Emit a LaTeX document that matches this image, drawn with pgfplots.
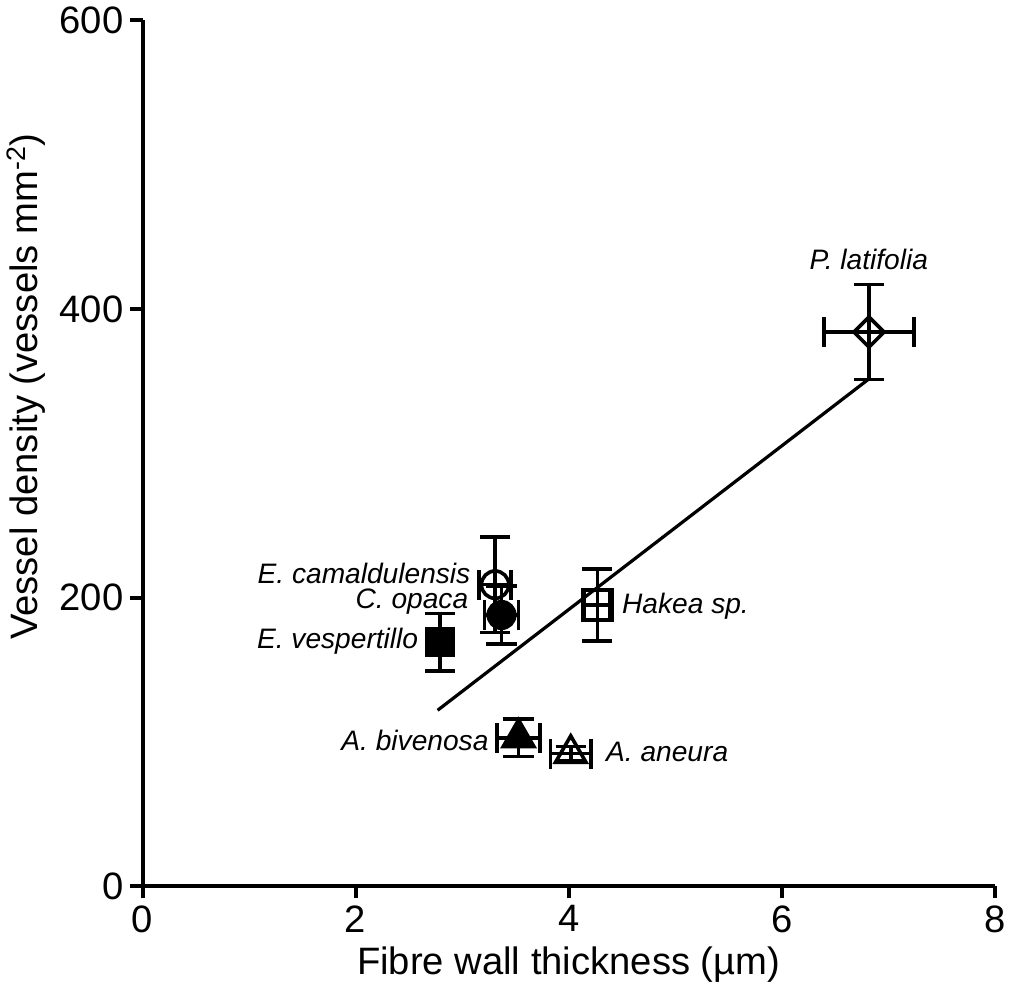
\documentclass[border=0pt]{standalone}
\usepackage{pgfplots}
\pgfplotsset{compat=1.18}
\usepackage{fontspec}
\setmainfont{Liberation Sans}

\begin{document}
\begin{tikzpicture}
\begin{axis}[
  scale only axis, width=424pt, height=431pt,
  xmin=0, xmax=8, ymin=0, ymax=600,
  axis lines=left, axis line style={-, line width=2pt},
  xtick={0,2,4,6,8}, ytick={0,200,400,600},
  tick align=outside, major tick length=6pt,
  tick style={line width=2pt, black},
  ticklabel style={font=\fontsize{19}{19}\selectfont},
  label style={font=\fontsize{19}{19}\selectfont},
  xlabel={Fibre wall thickness (µm)},
  ylabel={Vessel density (vessels mm\textsuperscript{-2})},
  every axis y label/.append style={at={(ticklabel cs:0.577)}},
  /pgf/number format/assume math mode=true,
  clip=false,
  every axis plot/.append style={line width=1.8pt, black},
  error bars/error bar style={line width=1.8pt, black},
  error bars/error mark options={rotate=90, line width=1.8pt, mark size=7.5pt, black},
]
% E. camaldulensis
\addplot[only marks, mark=o, mark size=6.8pt, mark options={fill=white},
  error bars/.cd, x dir=both, x explicit, y dir=both, y explicit]
  coordinates {(3.31,209) +- (0.15,33)};
% C. opaca
\addplot[only marks, mark=*, mark size=6.6pt,
  error bars/.cd, x dir=both, x explicit, y dir=both, y explicit]
  coordinates {(3.37,188) +- (0.16,20)};
% E. vespertillo
\addplot[only marks, mark=square*, mark size=6.6pt,
  error bars/.cd, x dir=both, x explicit, y dir=both, y explicit]
  coordinates {(2.79,169) +- (0.08,20)};
% Hakea sp.
\addplot[only marks, mark=square, mark size=7.4pt, mark options={fill=white},
  error bars/.cd, x dir=both, x explicit, y dir=both, y explicit]
  coordinates {(4.27,195) +- (0.12,25)};
% A. bivenosa
\addplot[only marks, mark=triangle*, mark size=8.8pt,
  error bars/.cd, x dir=both, x explicit, y dir=both, y explicit]
  coordinates {(3.53,103) +- (0.20,13)};
% A. aneura
\addplot[only marks, mark=triangle, mark size=8.8pt, mark options={fill=white},
  error bars/.cd, x dir=both, x explicit, y dir=both, y explicit]
  coordinates {(4.02,92) +- (0.19,5)};
% P. latifolia
\addplot[only marks, mark=square, mark size=5.3pt, mark options={fill=white, rotate=45},
  error bars/.cd, x dir=both, x explicit, y dir=both, y explicit]
  coordinates {(6.82,384) +- (0.42,33)};
% regression line
\addplot[line width=1.6pt, black, mark=none] coordinates {(2.77,122) (6.81,351)};

\begin{scope}[every node/.style={font=\itshape\fontsize{14}{14}\selectfont, inner sep=1pt}]
\node[anchor=east] at (axis cs:3.10,217) {E. camaldulensis};
\node[anchor=east] at (axis cs:3.08,197) {C. opaca};
\node[anchor=east] at (axis cs:2.61,170) {E. vespertillo};
\node[anchor=west] at (axis cs:4.48,194) {Hakea sp.};
\node[anchor=east] at (axis cs:3.27,101) {A. bivenosa};
\node[anchor=west] at (axis cs:4.33,93) {A. aneura};
\node[anchor=west] at (axis cs:6.24,434) {P. latifolia};
\end{scope}
\end{axis}
\end{tikzpicture}
\end{document}
